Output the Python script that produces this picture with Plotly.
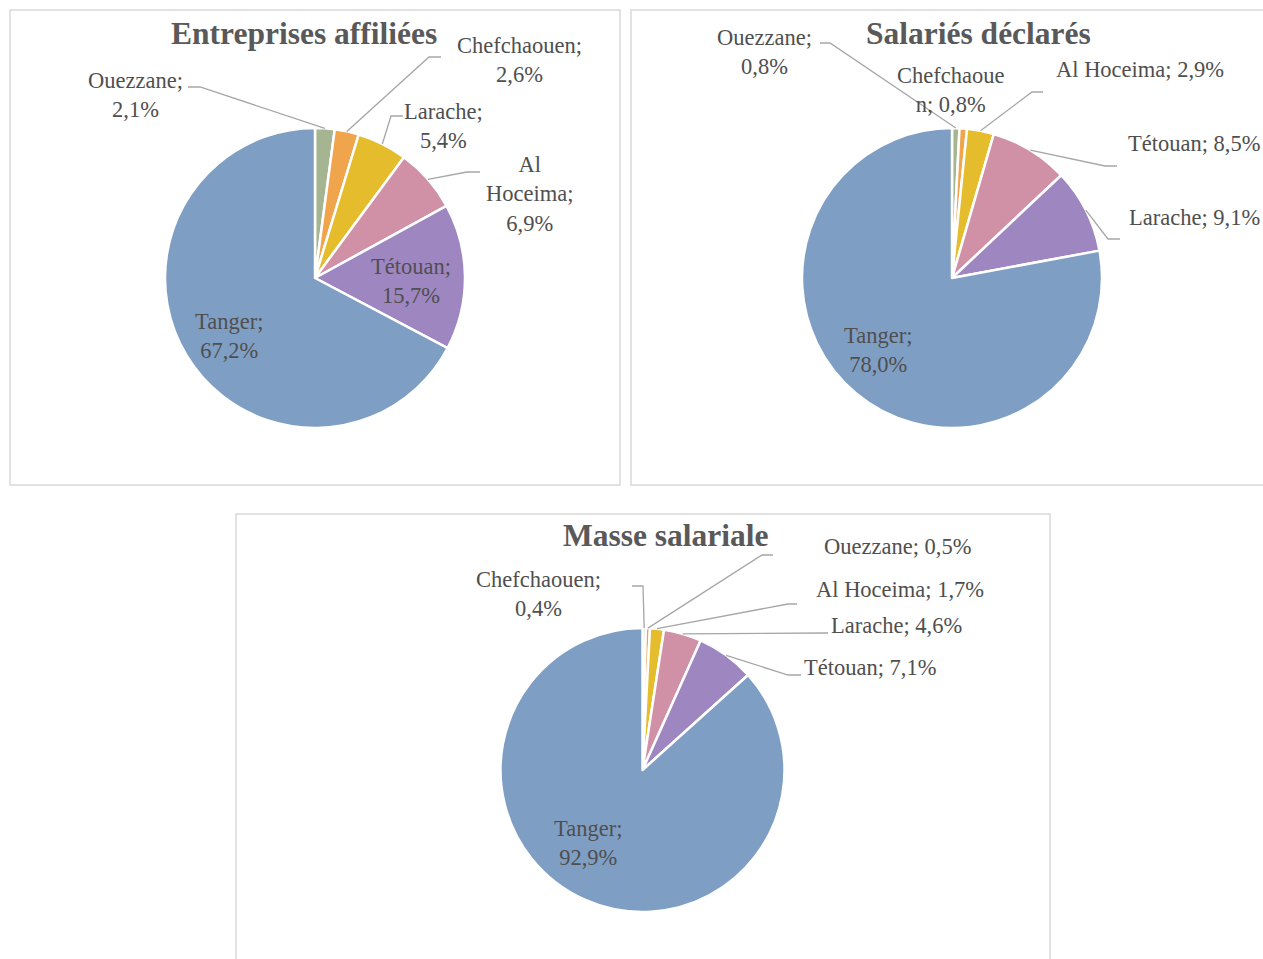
import math
import plotly.graph_objects as go

W, H = 1263, 959

# ---------------- data ----------------
titles = ["Entreprises affiliées", "Salariés déclarés", "Masse salariale"]

labels_1 = ["Ouezzane", "Chefchaouen", "Larache", "Al Hoceima", "Tétouan", "Tanger"]
values_1 = [2.1, 2.6, 5.4, 6.9, 15.7, 67.2]

labels_2 = ["Ouezzane", "Chefchaouen", "Al Hoceima", "Tétouan", "Larache", "Tanger"]
values_2 = [0.8, 0.8, 2.9, 8.5, 9.1, 78.0]

labels_3 = ["Chefchaouen", "Ouezzane", "Al Hoceima", "Larache", "Tétouan", "Tanger"]
values_3 = [0.4, 0.5, 1.7, 4.6, 7.1, 92.9]

slice_colors = ["#A5B592", "#F0A44B", "#E5BC2B", "#D091A6", "#9E86C1", "#7F9EC4"]

FONT = "Liberation Serif"
LABEL_COLOR = "#4F4F4F"
TITLE_COLOR = "#595959"
LINE_COLOR = "#A6A6A6"
LABEL_SIZE = 22.5
TITLE_SIZE = 31.5

# ---------------- layout geometry (pixels) ----------------
boxes = [(10, 10, 620, 485), (631, 10, 1275, 485), (236, 514, 1050, 975)]
pies = [  # center x, center y, radius
    (315, 278, 150),
    (952, 278, 150),
    (642.5, 770, 142),
]
title_pos = [(304, 33), (978, 33), (666, 535)]

# label text-formatting and placement per pie: (text, x, y, xanchor, leader points near label or None)
label_layout = [
    {
        "Ouezzane": ("Ouezzane;<br>2,1%", 135, 95, "center", [(188, 87), (200, 87)]),
        "Chefchaouen": ("Chefchaouen;<br>2,6%", 519, 60, "center", [(441, 57), (429, 57)]),
        "Larache": ("Larache;<br>5,4%", 443, 126, "center", [(403, 116), (391, 116)]),
        "Al Hoceima": ("Al<br>Hoceima;<br>6,9%", 529, 194, "center", [(480, 172), (467, 172)]),
        "Tétouan": ("Tétouan;<br>15,7%", 411, 281, "center", None),
        "Tanger": ("Tanger;<br>67,2%", 229, 336, "center", None),
    },
    {
        "Ouezzane": ("Ouezzane;<br>0,8%", 764, 52, "center", [(820, 43), (830, 43)]),
        "Chefchaouen": ("Chefchaoue<br>n; 0,8%", 950, 90, "center", None),
        "Al Hoceima": ("Al Hoceima; 2,9%", 1054, 69, "left", [(1043, 92), (1032, 92)]),
        "Tétouan": ("Tétouan; 8,5%", 1126, 143, "left", [(1117, 166), (1105, 166)]),
        "Larache": ("Larache; 9,1%", 1127, 217, "left", [(1120, 239), (1108, 239)]),
        "Tanger": ("Tanger;<br>78,0%", 878, 350, "center", None),
    },
    {
        "Chefchaouen": ("Chefchaouen;<br>0,4%", 538, 594, "center", [(632, 586), (643, 586)]),
        "Ouezzane": ("Ouezzane; 0,5%", 822, 546, "left", [(773, 555), (762, 555)]),
        "Al Hoceima": ("Al Hoceima; 1,7%", 814, 589, "left", [(797, 604), (788, 604)]),
        "Larache": ("Larache; 4,6%", 829, 625, "left", [(828, 633), (826, 633)]),
        "Tétouan": ("Tétouan; 7,1%", 802, 667, "left", [(801, 675), (788, 675)]),
        "Tanger": ("Tanger;<br>92,9%", 588, 843, "center", None),
    },
]

datasets = [(labels_1, values_1), (labels_2, values_2), (labels_3, values_3)]

fig = go.Figure()

# invisible pixel-coordinate axes for annotations and shapes
fig.update_layout(
    xaxis=dict(range=[0, W], visible=False, domain=[0, 1], fixedrange=True),
    yaxis=dict(range=[H, 0], visible=False, domain=[0, 1], fixedrange=True),
)
fig.add_trace(go.Scatter(x=[0, W], y=[0, H], mode="markers",
                         marker=dict(opacity=0), hoverinfo="skip", showlegend=False))

shapes = []
annotations = []

for (x0, y0, x1, y1) in boxes:
    shapes.append(dict(type="rect", xref="x", yref="y", x0=x0, y0=y0, x1=x1, y1=y1,
                       line=dict(color="#D9D9D9", width=1.5), layer="below"))

for i, ((labs, vals), (cx, cy, r)) in enumerate(zip(datasets, pies)):
    fig.add_trace(go.Pie(
        labels=labs, values=vals, sort=False, direction="clockwise", rotation=0,
        marker=dict(colors=slice_colors, line=dict(color="white", width=2.5)),
        textinfo="none", hoverinfo="label+percent", showlegend=False,
        domain=dict(x=[(cx - r) / W, (cx + r) / W], y=[1 - (cy + r) / H, 1 - (cy - r) / H]),
    ))
    total = sum(vals)
    cum = 0.0
    for lab, v in zip(labs, vals):
        mid = (cum + v / 2) / total * 2 * math.pi
        cum += v
        text, tx, ty, xa, leader = label_layout[i][lab]
        annotations.append(dict(x=tx, y=ty, xref="x", yref="y", text=text, showarrow=False,
                                xanchor=xa, yanchor="middle", align="center",
                                font=dict(family=FONT, size=LABEL_SIZE, color=LABEL_COLOR)))
        if leader:
            tipx = cx + r * math.sin(mid)
            tipy = cy - r * math.cos(mid)
            (ax, ay), (bx, by) = leader
            shapes.append(dict(type="path", xref="x", yref="y",
                               path=f"M {ax} {ay} L {bx} {by} L {tipx:.1f} {tipy:.1f}",
                               line=dict(color=LINE_COLOR, width=1.3)))
    tx, ty = title_pos[i]
    annotations.append(dict(x=tx, y=ty, xref="x", yref="y", text=f"<b>{titles[i]}</b>",
                            showarrow=False, xanchor="center", yanchor="middle",
                            font=dict(family=FONT, size=TITLE_SIZE, color=TITLE_COLOR)))

fig.update_layout(
    width=W, height=H,
    margin=dict(l=0, r=0, t=0, b=0),
    paper_bgcolor="white", plot_bgcolor="white",
    shapes=shapes, annotations=annotations,
    showlegend=False,
)

fig.write_html("out.html", config={"displayModeBar": False},
               post_script="document.body.style.margin='0px';document.body.style.overflow='hidden';")
